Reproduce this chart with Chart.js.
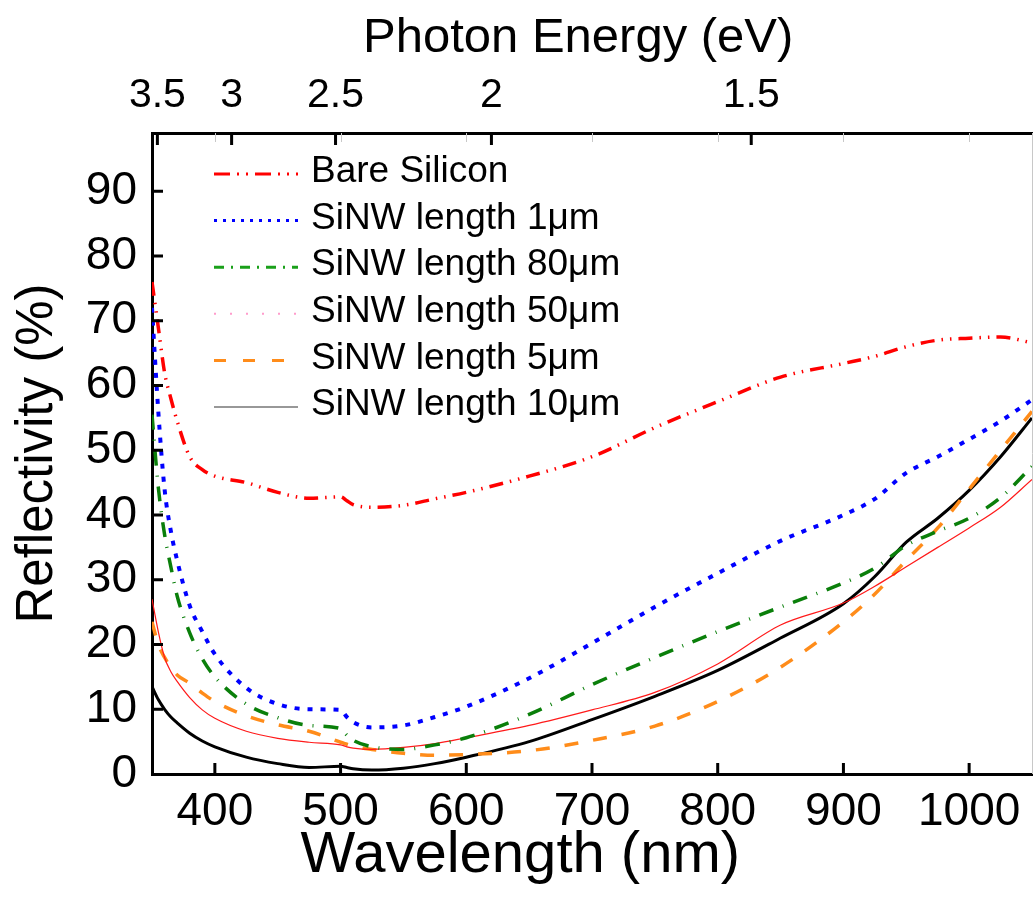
<!DOCTYPE html>
<html>
<head>
<meta charset="utf-8">
<script src="https://cdn.jsdelivr.net/npm/chart.js@4.4.1/dist/chart.umd.min.js"></script>
<style>
  html, body { margin: 0; padding: 0; background: #fff; }
  #chart { display: block; }
</style>
</head>
<body>
<canvas id="chart" width="1033" height="897"></canvas>
<script>
// wavelength samples (nm) shared by every curve
const wavelengths = [350, 355, 360, 365, 370, 380, 390, 400, 425, 450, 475, 500, 505, 510, 525,
                     550, 575, 600, 650, 700, 750, 800, 850, 900, 925, 950, 975, 1000, 1025, 1050];

const bareSilicon = [76, 69, 62, 58, 54.5, 49, 47, 46, 45, 43.5, 42.6, 42.8, 42.2, 41.6, 41.2,
                     41.5, 42.5, 43.5, 46, 49, 53.5, 57.5, 61.3, 63.4, 64.5, 66, 67, 67.3, 67.5, 66.6];
const len1um = [72, 56, 44, 37.5, 33, 26, 22, 18.5, 13.3, 10.8, 10, 9.9, 8.8, 8, 7.2,
                7.5, 8.8, 10.4, 14.8, 20.2, 25.8, 31, 36, 40, 42.5, 46.5, 49, 51.7, 54.5, 57.8];
const len80um = [55.5, 44.3, 37, 32, 27.5, 21.8, 17.8, 15, 10.8, 8.7, 7.5, 7, 6, 5.2, 4.2,
                 3.8, 4.5, 5.6, 9.2, 13.8, 18, 22, 25.8, 29.5, 31.8, 35.3, 37.5, 39.5, 42.7, 47.5];
const len50um = [27, 22, 18, 15.8, 14.3, 11.8, 9.9, 8.6, 6.6, 5.5, 4.9, 4.5, 4.2, 4, 3.8,
                 4.1, 4.7, 5.6, 7.5, 9.9, 12.6, 17, 23, 26.4, 29, 32, 35, 38, 41.2, 45.5];
const len5um = [23.5, 20, 18, 16.5, 15.3, 14, 12.5, 11.2, 9, 7.6, 6.6, 4.9, 4.6, 4.3, 3.8,
                3.2, 2.9, 3, 3.6, 5.2, 7.4, 11.2, 16.5, 23.5, 27.8, 33, 38, 44, 50, 56];
const len10um = [13.5, 11.5, 10, 8.8, 7.9, 6.3, 5.1, 4.2, 2.6, 1.6, 1, 1.2, 1, 0.8, 0.6,
                 0.9, 1.6, 2.6, 5, 8.4, 12, 16, 21, 26.3, 30.5, 35.8, 39.5, 43.8, 49, 55];

const seriesNames = ['Bare Silicon', 'SiNW length 1\u03bcm', 'SiNW length 80\u03bcm',
                     'SiNW length 50\u03bcm', 'SiNW length 5\u03bcm', 'SiNW length 10\u03bcm'];

// axis ticks
const xTicks = [400, 500, 600, 700, 800, 900, 1000];
const yTicks = [0, 10, 20, 30, 40, 50, 60, 70, 80, 90];
const energyTicks = [3.5, 3, 2.5, 2, 1.5];   // eV, top axis
const energyLabels = ['3.5', '3', '2.5', '2', '1.5'];

const FONT = "'Liberation Sans', Arial, sans-serif";

function pts(vals) {
    return vals.map((v, i) => ({ x: wavelengths[i], y: v }));
}

// curve styles
const curveStyles = [
    { color: '#ff0000', width: 3.5, dash: [14, 7, 1.5, 7, 1.5, 7] },
    { color: '#0000ff', width: 4, dash: [5, 8] },
    { color: '#0a7f0a', width: 3.5, dash: [15, 10, 1, 10] },
    { color: '#ff1a1a', width: 1.2, dash: [] },
    { color: '#ff8c1a', width: 3.5, dash: [14, 15] },
    { color: '#000000', width: 3, dash: [] }
];
// legend sample styles (the key differs slightly from the curves)
const legendStyles = [
    { color: '#ff0000', width: 3, dash: [16, 7, 2, 7, 2, 7] },
    { color: '#0000ff', width: 3, dash: [3, 6] },
    { color: '#1aa01a', width: 3, dash: [10, 7, 2, 7] },
    { color: '#ff9ccc', width: 2, dash: [2, 14] },
    { color: '#ff8c1a', width: 3, dash: [12, 17] },
    { color: '#333333', width: 1.2, dash: [] }
];

const allSeries = [bareSilicon, len1um, len80um, len50um, len5um, len10um];

const datasets = allSeries.map((vals, i) => ({
    label: seriesNames[i],
    data: pts(vals),
    borderColor: curveStyles[i].color,
    borderWidth: curveStyles[i].width,
    borderDash: curveStyles[i].dash,
    pointRadius: 0,
    fill: false,
    cubicInterpolationMode: 'monotone'
}));

// inward ticks drawn along the library scales, plus the two x titles
const inwardTicks = {
    id: 'inwardTicks',
    afterDraw(chart) {
        const ctx = chart.ctx;
        const area = chart.chartArea;
        const xs = chart.scales.x, ys = chart.scales.y, xt = chart.scales.x2;
        ctx.save();
        ctx.strokeStyle = '#000';
        ctx.lineWidth = 3;
        ctx.beginPath();
        xTicks.forEach(v => {
            const px = xs.getPixelForValue(v);
            ctx.moveTo(px, area.bottom);
            ctx.lineTo(px, area.bottom - 11);
        });
        yTicks.forEach(v => {
            if (v === 0) return;
            const py = ys.getPixelForValue(v);
            ctx.moveTo(area.left, py);
            ctx.lineTo(area.left + 11, py);
        });
        energyTicks.forEach(e => {
            const px = xt.getPixelForValue(1240 / e);
            ctx.moveTo(px, area.top);
            ctx.lineTo(px, area.top + 12);
        });
        ctx.stroke();
        // faint mirrored ticks on the top edge
        ctx.strokeStyle = '#c8c8c8';
        ctx.lineWidth = 1;
        ctx.beginPath();
        xTicks.forEach(v => {
            const px = Math.round(xs.getPixelForValue(v)) + 0.5;
            ctx.moveTo(px, area.top);
            ctx.lineTo(px, area.top + 9);
        });
        ctx.moveTo(area.right + 0.5, area.top);
        ctx.lineTo(area.right + 0.5, area.bottom);
        ctx.stroke();

        // axis titles (both sit a little left of the plot centre in the original)
        ctx.fillStyle = '#000';
        ctx.textAlign = 'center';
        ctx.textBaseline = 'middle';
        ctx.font = '58px ' + FONT;
        ctx.fillText('Wavelength (nm)', xs.getPixelForValue(643), 856);
        ctx.font = '49px ' + FONT;
        ctx.fillText('Photon Energy (eV)', xs.getPixelForValue(689), 38);
        ctx.restore();
    }
};

const keyLegend = {
    id: 'keyLegend',
    afterDraw(chart) {
        const ctx = chart.ctx;
        ctx.save();
        ctx.font = '37px ' + FONT;
        ctx.textBaseline = 'middle';
        ctx.fillStyle = '#000';
        seriesNames.forEach((name, i) => {
            const y = 172 + i * 46.6;
            const st = legendStyles[i];
            ctx.strokeStyle = st.color;
            ctx.lineWidth = st.width;
            ctx.setLineDash(st.dash);
            ctx.beginPath();
            ctx.moveTo(214, y + 2);
            ctx.lineTo(298, y + 2);
            ctx.stroke();
            ctx.setLineDash([]);
            ctx.fillText(name, 311, y);
        });
        ctx.restore();
    }
};

new Chart(document.getElementById('chart'), {
    type: 'line',
    data: { datasets },
    options: {
        responsive: false,
        animation: false,
        devicePixelRatio: 1,
        layout: { padding: { left: 0, right: 1, top: 0, bottom: 0 } },
        plugins: {
            legend: { display: false },
            tooltip: { enabled: false }
        },
        scales: {
            x: {
                type: 'linear',
                position: 'bottom',
                min: 350,
                max: 1050,
                afterBuildTicks: s => { s.ticks = xTicks.map(v => ({ value: v })); },
                afterFit: s => { s.height = 123; },
                grid: { display: false, drawTicks: false },
                border: { display: true, color: '#000', width: 3 },
                ticks: {
                    autoSkip: false, maxRotation: 0, padding: 11,
                    color: '#000', font: { family: FONT, size: 46 },
                    callback: v => String(v)
                },
                title: { display: false }
            },
            x2: {
                type: 'linear',
                position: 'top',
                min: 350,
                max: 1050,
                afterBuildTicks: s => { s.ticks = energyTicks.map(e => ({ value: 1240 / e })); },
                afterFit: s => { s.height = 133; },
                grid: { display: false, drawTicks: false },
                border: { display: true, color: '#000', width: 3 },
                ticks: {
                    autoSkip: false, maxRotation: 0, padding: 13,
                    color: '#000', font: { family: FONT, size: 41 },
                    callback: (v, i) => energyLabels[i]
                },
                title: { display: false }
            },
            y: {
                type: 'linear',
                min: 0,
                max: 99,
                afterBuildTicks: s => { s.ticks = yTicks.map(v => ({ value: v })); },
                afterFit: s => { s.width = 152; },
                grid: { display: false, drawTicks: false },
                border: { display: true, color: '#000', width: 3 },
                ticks: {
                    padding: 15, color: '#000', font: { family: FONT, size: 46 }
                },
                title: {
                    display: true, text: 'Reflectivity (%)', color: '#000',
                    font: { family: FONT, size: 51 }, padding: { top: 7, bottom: 0 }
                }
            }
        }
    },
    plugins: [inwardTicks, keyLegend]
});
</script>
</body>
</html>
